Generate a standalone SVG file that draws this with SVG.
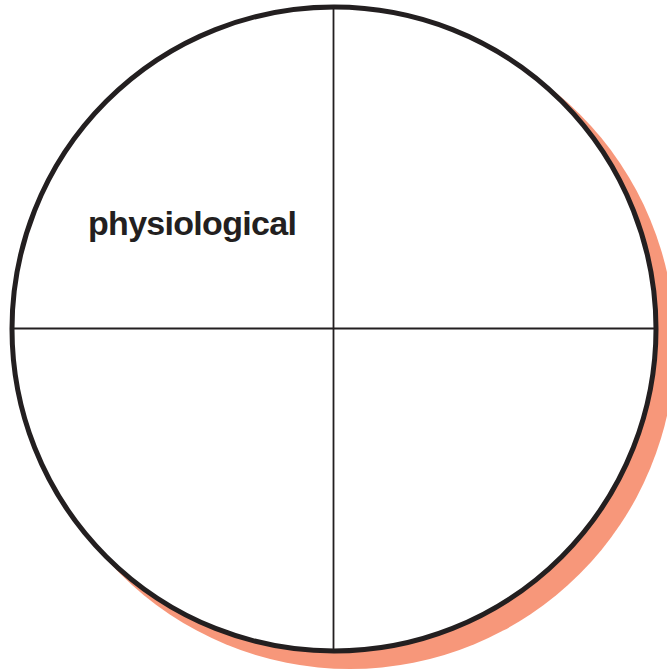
<svg xmlns="http://www.w3.org/2000/svg" width="667" height="669" viewBox="0 0 667 669">
<style>
.line{stroke:#231f20;stroke-width:1.8;fill:none}
.label{font-family:"Liberation Sans",Arial,sans-serif;font-weight:bold;font-size:34px;fill:#231f20;letter-spacing:-0.7px}
</style>
<rect width="667" height="669" fill="#ffffff"/>
<g id="shadow">
<circle cx="350" cy="344" r="325" fill="#f7977a"/>
</g>
<g id="circle">
<circle cx="334" cy="329" r="322" fill="#ffffff" stroke="#231f20" stroke-width="5"/>
</g>
<g id="connectors">
<line class="line" x1="333.5" y1="8" x2="333.5" y2="650"/>
<line class="line" x1="13" y1="328.5" x2="655" y2="328.5"/>
</g>
<g id="physiological">
<text class="label" x="88" y="235">physiological</text>
</g>
</svg>
